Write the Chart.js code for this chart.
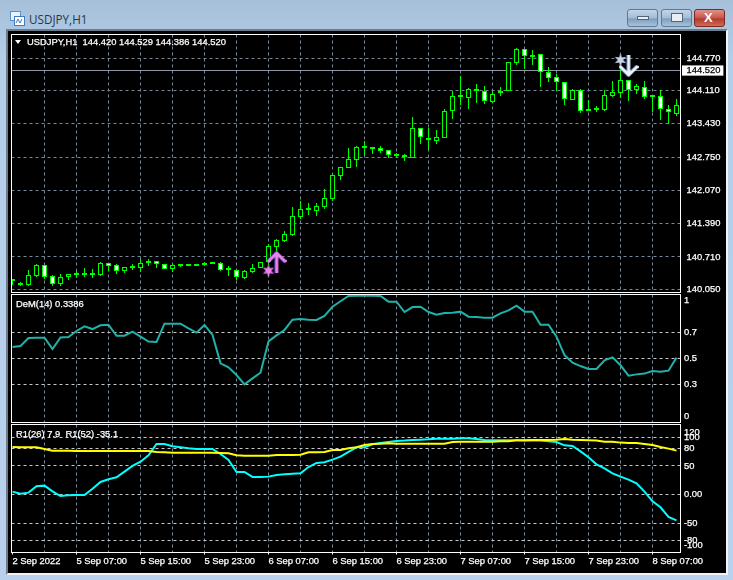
<!DOCTYPE html>
<html>
<head>
<meta charset="utf-8">
<title>USDJPY,H1</title>
<script src="https://cdn.jsdelivr.net/npm/chart.js@4"></script>
<style>
  html, body { margin: 0; padding: 0; }
  body { width: 733px; height: 580px; position: relative; overflow: hidden;
         background: linear-gradient(#a6c0da, #b5cee8 60px, #b9d1ec); font-family: "Liberation Sans", sans-serif; }
  #frame { position: absolute; left: 6px; top: 29px; width: 722px; height: 546px; box-sizing: border-box;
           border: 2px solid; border-color: #6d7c8c #f0f4f8 #f0f4f8 #6d7c8c; background: #000; }
  canvas { position: absolute; left: 8px; }
  .label { position: absolute; color: #fff; font-size: 9.4px; line-height: 12px; white-space: pre; -webkit-text-stroke: 0.25px #fff; }
  #arrowdown { position: absolute; left: 15px; top: 40px; width: 0; height: 0;
               border-left: 3.5px solid transparent; border-right: 3.5px solid transparent; border-top: 4px solid #fff; }
  #wintitle { position: absolute; left: 29px; top: 11px; font: 11.7px "Open Sans", sans-serif; color: #27364a; }
  .btn { position: absolute; top: 9px; width: 31px; height: 18px; box-sizing: border-box; border-radius: 3px;
         border: 1px solid #5d7a96; background: linear-gradient(#c4d6e8, #a3bcd4 50%, #7f9db9 55%, #a8c2da); }
  .btn.close { border-color: #7a2a22; background: linear-gradient(#e0918a, #c8554a 50%, #b03a2e 55%, #cf6a5a); }
  .btn i { position: absolute; display: block; }
</style>
</head>
<body>
<svg style="position:absolute;left:10px;top:11px" width="15" height="15" viewBox="0 0 15 15">
  <rect x="0.5" y="0.5" width="10" height="9" fill="#eaf2fb" stroke="#5b8fd0"/>
  <rect x="4.5" y="5.5" width="10" height="9" fill="#ffffff" stroke="#3f7bc4"/>
  <path d="M6 12 L8 8 L10 12 L12 8" fill="none" stroke="#3f7bc4"/>
</svg>
<div id="wintitle">USDJPY,H1</div>
<div class="btn" style="left:627px"><i style="left:9px;top:6px;width:12px;height:4px;background:#e8eef4;border:1px solid #54657a;box-sizing:border-box"></i></div>
<div class="btn" style="left:661px"><i style="left:9px;top:3px;width:12px;height:9px;background:#e8eef4;border:1px solid #54657a;box-sizing:border-box"></i></div>
<div class="btn close" style="left:694px"><i style="left:9px;top:1px;color:#fff;font:bold 13px 'Liberation Sans';line-height:14px">X</i></div>
<div id="frame"></div>
<canvas id="priceChart" width="718" height="262" style="top:31px"></canvas>
<canvas id="demChart" width="718" height="130" style="top:293px"></canvas>
<canvas id="r1Chart" width="718" height="150" style="top:423px"></canvas>
<div id="arrowdown"></div>
<div class="label" style="left:27px;top:36px">USDJPY,H1  144.420 144.529 144.386 144.520</div>
<div class="label" style="left:16px;top:298px">DeM(14) 0.3386</div>
<div class="label" style="left:16px;top:428px">R1(26) 7.9  R1(52) -35.1</div>
<script>
// Time axis: one label every 8 bars
const timeLabels = ['2 Sep 2022', '5 Sep 07:00', '5 Sep 15:00', '5 Sep 23:00', '6 Sep 07:00', '6 Sep 15:00',
    '6 Sep 23:00', '7 Sep 07:00', '7 Sep 15:00', '7 Sep 23:00', '8 Sep 07:00'];

// Candles
const opens = [140.220,140.138,140.138,140.321,140.546,140.321,140.158,140.301,140.342,140.342,140.342,140.342,
    140.587,140.546,140.424,140.485,140.485,140.587,140.628,140.566,140.464,140.525,140.525,140.525,
    140.546,140.566,140.587,140.444,140.444,140.281,140.403,140.485,140.607,140.914,141.037,141.159,
    141.527,141.670,141.650,141.731,141.895,142.364,142.528,142.692,142.937,142.916,142.937,142.896,
    142.773,142.753,142.733,143.346,143.142,143.080,143.142,143.693,143.979,143.959,144.142,144.102,
    143.877,144.061,144.102,144.674,144.960,144.796,144.857,144.490,144.388,144.285,143.918,144.122,
    143.693,143.713,143.713,143.999,144.061,144.326,144.122,144.183,143.979,143.999,143.734,143.632];
const highs = [140.260,140.199,140.444,140.566,140.546,140.342,140.362,140.362,140.424,140.485,140.464,140.607,
    140.587,140.566,140.505,140.566,140.669,140.669,140.628,140.566,140.566,140.566,140.566,140.566,
    140.607,140.607,140.607,140.525,140.464,140.444,140.566,140.607,140.975,141.077,141.241,141.731,
    141.854,141.813,141.813,142.099,142.405,142.549,142.937,142.977,143.080,142.957,142.977,142.896,
    142.835,142.814,143.570,143.346,143.346,143.305,143.734,144.102,144.408,144.163,144.244,144.203,
    144.102,144.183,144.694,144.981,144.960,144.939,144.857,144.592,144.449,144.285,144.142,144.142,
    143.918,143.795,144.122,144.306,144.592,144.326,144.244,144.306,144.020,144.122,143.816,143.938];
const lows = [140.138,140.117,140.117,140.301,140.260,140.117,140.117,140.240,140.281,140.301,140.281,140.321,
    140.424,140.362,140.383,140.444,140.403,140.525,140.485,140.464,140.403,140.505,140.525,140.525,
    140.525,140.566,140.424,140.321,140.240,140.260,140.383,140.485,140.546,140.833,141.016,141.138,
    141.486,141.568,141.547,141.690,141.854,142.283,142.528,142.549,142.794,142.814,142.835,142.733,
    142.753,142.671,142.733,143.018,142.896,143.018,143.142,143.529,143.816,143.734,143.857,143.836,
    143.857,143.999,144.102,144.633,144.551,144.633,144.183,144.285,144.102,143.816,143.918,143.652,
    143.693,143.673,143.693,143.979,143.959,143.898,144.040,143.938,143.673,143.509,143.427,143.591];
const closes = [140.260,140.158,140.342,140.546,140.301,140.158,140.301,140.362,140.362,140.362,140.362,140.587,
    140.525,140.424,140.505,140.505,140.587,140.607,140.566,140.464,140.546,140.546,140.546,140.546,
    140.587,140.587,140.444,140.464,140.301,140.424,140.485,140.607,140.934,141.057,141.179,141.547,
    141.690,141.690,141.751,141.916,142.385,142.549,142.712,142.957,142.957,142.937,142.876,142.794,
    142.794,142.773,143.346,143.162,143.100,143.162,143.693,143.999,143.999,144.142,144.102,143.898,
    144.040,144.102,144.694,144.960,144.816,144.837,144.490,144.368,144.285,143.938,144.122,143.693,
    143.734,143.754,144.020,144.081,144.326,144.122,144.203,143.979,143.999,143.734,143.673,143.816];
const priceTicks = [144.77, 144.11, 143.43, 142.75, 142.07, 141.39, 140.71, 140.05];
const lastPrice = 144.52;

// Signals on the price pane: [bar, price]
const upStar = [[32, 140.43]];
const upArrow = [[33, 140.597]];
const downStar = [[76, 144.735]];
const downArrow = [[77, 144.623]];

// DeMarker
const demValues = [.590,.598,.660,.663,.663,.574,.665,.668,.715,.751,.730,.759,.764,.678,.678,.710,.671,.632,.629,
    .772,.772,.772,.736,.702,.762,.684,.462,.431,.371,.298,.345,.389,.634,.681,.723,.803,.809,.803,.801,.832,.905,
    .947,.988,.991,.991,.991,.988,.944,.944,.863,.902,.905,.863,.842,.855,.858,.866,.827,.824,.819,.819,.853,.876,
    .913,.866,.866,.764,.764,.671,.527,.467,.441,.418,.418,.486,.509,.447,.366,.376,.382,.402,.397,.405,.507];
const demTicks = [1, 0.7, 0.5, 0.3, 0];
const demTickLabels = [['', '1'], '0.7', '0.5', '0.3', ['0', '']];

// Williams %R style pair, as drawn on the lower pane
const r1Fast = [5.2,1.7,3.5,14.5,15.7,5.8,-2.4,-1.2,-0.6,-0.6,10.4,22.1,26.7,30.2,40.1,50.0,57.5,68.6,88.3,88.3,84.3,
    82.5,80.8,79.6,79.6,79.6,70.9,60.4,39.5,39.5,30.8,30.8,31.4,34.3,35.4,36.6,37.2,48.2,55.2,56.4,61.0,66.2,74.4,
    82.5,82.5,87.8,90.1,91.8,93.6,94.2,95.3,95.9,96.5,97.6,97.6,97.6,98.2,98.2,97.1,95.3,94.7,94.7,94.7,94.7,94.2,
    94.2,94.2,93.0,91.8,86.0,84.9,75.5,65.1,52.9,45.9,37.2,31.4,26.1,19.7,5.2,-11.7,-22.1,-39.0,-44.8];
const r1Slow = [83.1,82.5,82.5,82.5,79.6,76.7,76.7,76.7,76.1,76.1,76.1,76.1,76.1,76.1,76.1,76.1,76.1,76.1,74.4,73.8,
    73.2,73.2,73.2,73.2,73.2,73.2,72.6,72.1,68.6,68.0,68.0,68.0,68.0,69.2,69.2,69.2,69.7,73.8,73.8,74.4,77.9,77.9,
    80.8,82.5,86.6,88.3,88.9,89.5,88.9,88.9,88.9,88.9,88.9,88.9,88.9,91.8,92.4,92.4,92.4,92.4,92.4,93.0,93.0,94.7,
    94.7,95.3,95.3,95.3,95.9,97.1,95.9,95.3,94.7,94.2,92.4,92.4,90.7,90.1,90.1,88.3,86.6,83.1,80.2,76.7];
const r1Ticks = [120, 100, 80, 50, 0, -50, -80, -100];
const r1TickLabels = [['', '120'], '100', '80', '50', '0.00', '-50', '-80', ['-100', '']];

const AXIS_FONT = { family: 'Liberation Sans', size: 9.4, lineHeight: 1.3 };
const GRID_COLOR = '#778899';
const LEVEL_COLOR = '#c8c8c8';
const CANDLE_GREEN = '#00ff00';

// Vertical grid every 4 bars
function xScale(isBottom) {
    return {
        type: 'linear', min: -0.125, max: 83.5, offset: false,
        afterBuildTicks: (scale) => {
            const t = [];
            for (let v = 0; v <= 80; v += 4) t.push({ value: v });
            scale.ticks = t;
        },
        afterFit: (scale) => { scale.height = isBottom ? 20.5 : 0; scale.paddingRight = 0; scale.paddingLeft = 0; },
        border: { display: false, dash: [3, 3] },
        grid: {
            offset: false,
            color: (ctx) => ctx.tick.value === 0 ? 'transparent' : GRID_COLOR,
            drawTicks: isBottom, tickLength: 2,
            tickColor: (ctx) => ctx.tick.value % 8 === 0 ? '#fff' : 'transparent',
        },
        ticks: {
            display: isBottom, autoSkip: false, maxRotation: 0, align: 'start', color: '#fff', font: AXIS_FONT, padding: 1,
            textStrokeColor: '#fff', textStrokeWidth: 0.25,
            callback: (value) => value % 8 === 0 ? timeLabels[value / 8] : '',
        },
    };
}

// White frame round each pane
const paneFrame = {
    id: 'paneFrame',
    afterDraw(chart) {
        const { ctx, chartArea: a } = chart;
        ctx.save();
        ctx.strokeStyle = '#fff';
        ctx.lineWidth = 1;
        ctx.strokeRect(a.left, a.top, a.right - a.left, a.bottom - a.top);
        ctx.restore();
    },
};

function baseOptions(padTop, padBottom) {
    return {
        responsive: false, animation: false, events: [],
        layout: { autoPadding: false, padding: { left: 3.5, right: 0, top: padTop, bottom: padBottom } },
        plugins: { legend: { display: false }, tooltip: { enabled: false } },
    };
}

function fitY(scale) {
    scale.width = 45.5;
    scale.paddingTop = 0;
    scale.paddingBottom = 0;
}

function yScale(min, max, tickValues, labels) {
    return {
        position: 'right', min, max,
        afterBuildTicks: (scale) => { scale.ticks = tickValues.map(v => ({ value: v })); },
        afterFit: fitY,
        border: { display: false, dash: [3, 3] },
        grid: {
            drawTicks: false,
            color: (ctx) => (ctx.tick.value === 1 && max === 1) || Math.abs(ctx.tick.value) >= 120 || ctx.tick.value === -100 ? 'transparent' : LEVEL_COLOR,
        },
        ticks: {
            autoSkip: false, color: '#fff', font: AXIS_FONT, padding: 3.5,
            textStrokeColor: '#fff', textStrokeWidth: 0.25,
            callback: (value) => labels[tickValues.indexOf(value)],
        },
    };
}

// Small arrow and star pictures used as point styles
function arrowSprite(up, color, fringe) {
    const c = document.createElement('canvas');
    c.width = 20; c.height = 23;
    const g = c.getContext('2d');
    const tip = up ? 2 : 21, arm = up ? 11 : 12, tail = up ? 22 : 1;
    const stroke = (dx, col) => {
        g.strokeStyle = col; g.lineWidth = 2.8;
        g.beginPath();
        g.moveTo(1 + dx, arm); g.lineTo(10 + dx, tip); g.lineTo(19 + dx, arm);
        g.moveTo(10 + dx, tip); g.lineTo(10 + dx, tail);
        g.stroke();
    };
    stroke(-0.7, fringe);
    stroke(0.4, color);
    return c;
}

function starSprite(color) {
    const c = document.createElement('canvas');
    c.width = 14; c.height = 14;
    const g = c.getContext('2d');
    g.fillStyle = color;
    g.beginPath();
    for (let k = 0; k < 12; k++) {
        const r = k % 2 === 0 ? 6.5 : 2.8;
        const a = -Math.PI / 2 + k * Math.PI / 6;
        g.lineTo(7 + r * Math.cos(a), 7 + r * Math.sin(a));
    }
    g.closePath();
    g.fill();
    return c;
}

function pointsOf(pairs) { return pairs.map(p => ({ x: p[0], y: p[1] })); }

const barData = closes.map((c, i) => ({ x: i, y: [opens[i], c] }));
const wickData = highs.map((h, i) => ({ x: i, y: [lows[i], h] }));

new Chart(document.getElementById('priceChart'), {
    type: 'bar',
    data: {
        datasets: [
            { type: 'line', data: pointsOf(upArrow), showLine: false, pointStyle: arrowSprite(true, '#ee82ee', '#6a4be0') },
            { type: 'line', data: pointsOf(downArrow), showLine: false, pointStyle: arrowSprite(false, '#eef2fa', '#6f93d8') },
            { type: 'line', data: pointsOf(upStar), showLine: false, pointStyle: starSprite('#ee82ee') },
            { type: 'line', data: pointsOf(downStar), showLine: false, pointStyle: starSprite('#c8d4e8') },
            {
                data: barData, grouped: false, barThickness: 5, minBarLength: 2, inflateAmount: 0,
                borderWidth: 1, borderColor: CANDLE_GREEN, borderSkipped: false,
                backgroundColor: closes.map((c, i) => c >= opens[i] ? '#000' : '#fff'),
            },
            { data: wickData, grouped: false, barThickness: 1, minBarLength: 1, inflateAmount: 0, borderWidth: 0, backgroundColor: CANDLE_GREEN },
        ],
    },
    options: {
        ...baseOptions(3.5, 0.5),
        scales: {
            x: xScale(false),
            y: {
                position: 'right', min: 139.984, max: 145.256,
                afterBuildTicks: (scale) => { scale.ticks = priceTicks.concat(lastPrice).map(v => ({ value: v })); },
                afterFit: fitY,
                border: { display: false, dash: (ctx) => ctx.tick && ctx.tick.value === lastPrice ? [] : [3, 3] },
                grid: { drawTicks: false, color: (ctx) => ctx.tick.value === lastPrice ? '#8f94a6' : GRID_COLOR },
                ticks: {
                    autoSkip: false, font: AXIS_FONT, padding: 6,
                    color: (ctx) => ctx.tick.value === lastPrice ? '#000' : '#fff',
                    textStrokeColor: (ctx) => ctx.tick.value === lastPrice ? '#000' : '#fff', textStrokeWidth: 0.25,
                    showLabelBackdrop: (ctx) => ctx.tick.value === lastPrice,
                    backdropColor: '#fff',
                    backdropPadding: { left: 4.5, right: 3, top: -1, bottom: -1 },
                    callback: (value) => value.toFixed(3),
                },
            },
        },
    },
    plugins: [paneFrame],
});

new Chart(document.getElementById('demChart'), {
    type: 'line',
    data: {
        datasets: [{
            data: demValues.map((v, i) => ({ x: i, y: v })),
            borderColor: '#20b2aa', borderWidth: 2, pointRadius: 0, tension: 0,
        }],
    },
    options: {
        ...baseOptions(1.5, 0.5),
        scales: { x: xScale(false), y: yScale(0, 1, demTicks, demTickLabels) },
    },
    plugins: [paneFrame],
});

new Chart(document.getElementById('r1Chart'), {
    type: 'line',
    data: {
        datasets: [
            { data: r1Slow.map((v, i) => ({ x: i, y: v })), borderColor: '#ffff00', borderWidth: 2, pointRadius: 0, tension: 0 },
            { data: r1Fast.map((v, i) => ({ x: i, y: v })), borderColor: '#00ffff', borderWidth: 2, pointRadius: 0, tension: 0 },
        ],
    },
    options: {
        ...baseOptions(1.5, 0),
        scales: { x: xScale(true), y: yScale(-100.9, 122.3, r1Ticks, r1TickLabels) },
    },
    plugins: [paneFrame],
});
</script>
</body>
</html>
